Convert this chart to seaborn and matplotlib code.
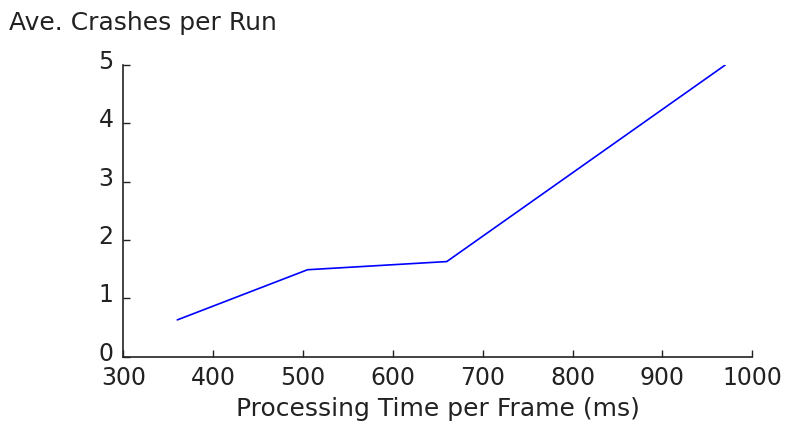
import matplotlib
matplotlib.use("Agg")
import matplotlib.pyplot as plt
import matplotlib.transforms as mtransforms
import seaborn as sns
import pandas as pd

# Data
processing_time_ms = [360, 505, 660, 970]
avg_crashes = [0.63, 1.49, 1.63, 5.0]
x_ticks = [300, 400, 500, 600, 700, 800, 900, 1000]
y_ticks = [0, 1, 2, 3, 4, 5]

sns.set_style("ticks")
plt.rcParams['font.family'] = ['DejaVu Sans']

df = pd.DataFrame({"time": processing_time_ms, "crashes": avg_crashes})

fig = plt.figure(figsize=(7.91, 4.36), dpi=100)
ax = fig.add_axes([0.156, 0.182, 0.795, 0.669])
sns.lineplot(data=df, x="time", y="crashes", ax=ax, color="#0000ff", linewidth=1.2)

ax.set_xlim(300, 1000)
ax.set_ylim(0, 5)
ax.set_xticks(x_ticks)
ax.set_yticks(y_ticks)
ax.tick_params(direction="in", length=5, width=1, labelsize=17, colors="#222222")
ax.tick_params(axis="y", pad=7)
ax.tick_params(axis="x", pad=7)
for s in ["top", "right"]:
    ax.spines[s].set_visible(False)
for s in ["left", "bottom"]:
    ax.spines[s].set_color("#222222")
    ax.spines[s].set_linewidth(1.2)

# raise y tick labels slightly, as in the reference
offset = mtransforms.ScaledTranslation(0, 4 / 72, fig.dpi_scale_trans)
for lbl in ax.get_yticklabels():
    lbl.set_transform(lbl.get_transform() + offset)

ax.set_xlabel("Processing Time per Frame (ms)", fontsize=18, color="#222222", labelpad=5)
ax.set_ylabel("")
fig.text(0.012, 0.948, "Ave. Crashes per Run", fontsize=18, color="#222222", ha="left", va="center")

fig.savefig("out.png", dpi=100)
